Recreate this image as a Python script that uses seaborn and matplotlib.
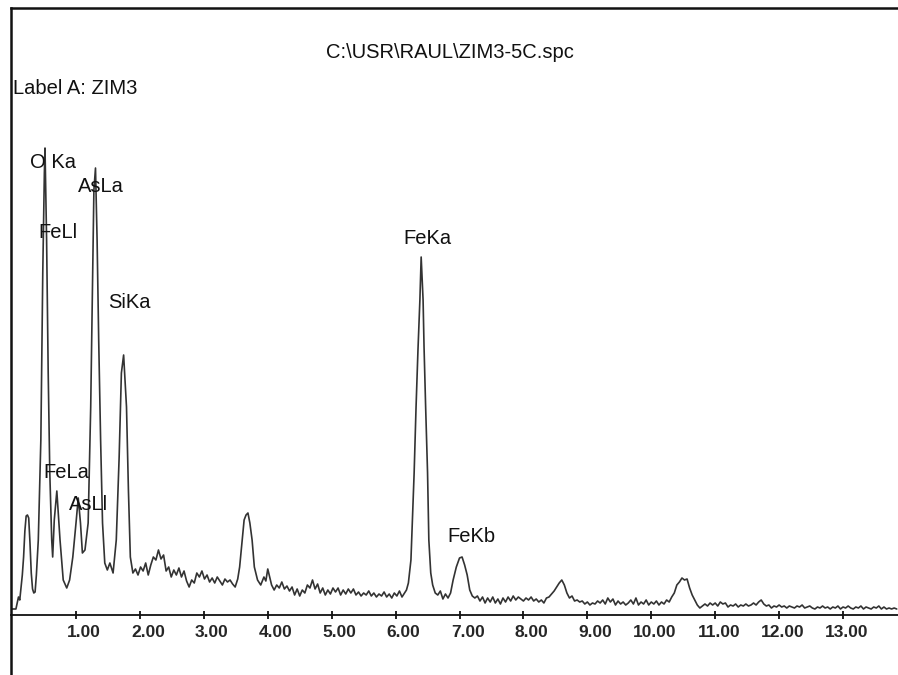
import numpy as np
import pandas as pd
import seaborn as sns
import matplotlib.pyplot as plt
import matplotlib.transforms as mtransforms

sns.set_style('white')
plt.rcParams['font.family'] = ['Liberation Sans', 'DejaVu Sans']

# EDS spectrum (energy in keV, counts in arbitrary units)
energy_kev = [
    0.00, 0.06, 0.08, 0.10, 0.12, 0.14, 0.16, 0.18, 0.20, 0.22,
    0.24, 0.26, 0.28, 0.30, 0.32, 0.34, 0.36, 0.38, 0.41, 0.45,
    0.48, 0.505, 0.515, 0.54, 0.565, 0.59, 0.62, 0.635, 0.66, 0.70,
    0.75, 0.80, 0.855, 0.90, 0.95, 1.00, 1.035, 1.07, 1.10, 1.14,
    1.19, 1.23, 1.26, 1.28, 1.305, 1.33, 1.355, 1.385, 1.415, 1.45,
    1.49, 1.53, 1.58, 1.63, 1.675, 1.71, 1.745, 1.79, 1.82, 1.85,
    1.89, 1.93, 1.97, 2.01, 2.05, 2.09, 2.13, 2.17, 2.21, 2.25,
    2.29, 2.33, 2.37, 2.41, 2.45, 2.49, 2.53, 2.57, 2.61, 2.65,
    2.69, 2.73, 2.77, 2.81, 2.85, 2.89, 2.93, 2.97, 3.01, 3.05,
    3.09, 3.13, 3.17, 3.21, 3.25, 3.29, 3.33, 3.37, 3.41, 3.45,
    3.49, 3.53, 3.56, 3.60, 3.63, 3.66, 3.69, 3.72, 3.755, 3.79,
    3.84, 3.89, 3.94, 3.97, 4.00, 4.03, 4.06, 4.10, 4.14, 4.18,
    4.22, 4.26, 4.30, 4.34, 4.38, 4.42, 4.46, 4.50, 4.54, 4.58,
    4.62, 4.66, 4.70, 4.74, 4.78, 4.82, 4.86, 4.90, 4.94, 4.98,
    5.02, 5.06, 5.10, 5.14, 5.18, 5.22, 5.26, 5.30, 5.34, 5.38,
    5.42, 5.46, 5.50, 5.54, 5.58, 5.62, 5.66, 5.70, 5.74, 5.78,
    5.82, 5.86, 5.90, 5.94, 5.98, 6.02, 6.06, 6.10, 6.14, 6.17,
    6.20, 6.24, 6.29, 6.32, 6.35, 6.38, 6.40, 6.43, 6.445, 6.47,
    6.50, 6.52, 6.55, 6.58, 6.62, 6.66, 6.70, 6.74, 6.78, 6.82,
    6.86, 6.90, 6.95, 7.00, 7.04, 7.08, 7.12, 7.16, 7.20,
    7.24, 7.28, 7.32, 7.36, 7.40, 7.44, 7.48, 7.52, 7.56, 7.60,
    7.64, 7.68, 7.72, 7.76, 7.80, 7.84, 7.88, 7.92, 7.96, 8.00,
    8.04, 8.08, 8.12, 8.16, 8.20, 8.24, 8.28, 8.32, 8.36, 8.40,
    8.44, 8.48, 8.52, 8.56, 8.60, 8.64, 8.68, 8.72, 8.76, 8.80,
    8.84, 8.88, 8.92, 8.96, 9.00, 9.04, 9.08, 9.12, 9.16, 9.20,
    9.24, 9.28, 9.32, 9.36, 9.40, 9.44, 9.48, 9.52, 9.56, 9.60,
    9.64, 9.68, 9.72, 9.76, 9.80, 9.84, 9.88, 9.92, 9.96, 10.00,
    10.04, 10.08, 10.12, 10.16, 10.20, 10.24, 10.28, 10.32, 10.36, 10.40,
    10.44, 10.48, 10.52, 10.56, 10.60, 10.64, 10.68, 10.72, 10.76, 10.80,
    10.84, 10.88, 10.92, 10.96, 11.00, 11.04, 11.08, 11.12, 11.16, 11.20,
    11.24, 11.28, 11.32, 11.36, 11.40, 11.44, 11.48, 11.52, 11.56, 11.60,
    11.64, 11.68, 11.72, 11.76, 11.80, 11.84, 11.88, 11.92, 11.96, 12.00,
    12.04, 12.08, 12.12, 12.16, 12.20, 12.24, 12.28, 12.32, 12.36, 12.40,
    12.44, 12.48, 12.52, 12.56, 12.60, 12.64, 12.68, 12.72, 12.76, 12.80,
    12.84, 12.88, 12.92, 12.96, 13.00, 13.04, 13.08, 13.12, 13.16, 13.20,
    13.24, 13.28, 13.32, 13.36, 13.40, 13.44, 13.48, 13.52, 13.56, 13.60,
    13.64, 13.68, 13.72, 13.76, 13.80, 13.84,
]
counts = [
    6, 6, 12, 18, 15, 28, 40, 58, 84, 99,
    100, 97, 72, 42, 26, 22, 23, 40, 75, 175,
    342, 442, 467, 375, 242, 142, 75, 58, 95, 124,
    75, 35, 27, 35, 58, 92, 117, 92, 62, 65,
    92, 208, 342, 425, 447, 375, 275, 175, 92, 52,
    45, 52, 42, 75, 158, 242, 260, 208, 125, 58,
    42, 46, 40, 48, 44, 52, 40, 50, 58, 55,
    65, 56, 60, 44, 48, 38, 45, 40, 47, 38,
    44, 34, 28, 35, 32, 42, 38, 44, 36, 40,
    33, 37, 32, 38, 34, 30, 36, 33, 35, 31,
    28, 36, 48, 75, 95, 100, 102, 92, 75, 48,
    35, 30, 38, 34, 46, 38, 30, 25, 30, 27,
    33, 26, 29, 24, 28, 20, 26, 19, 25, 22,
    30, 27, 35, 26, 31, 22, 27, 20, 25, 21,
    27, 23, 27, 20, 25, 21, 26, 22, 26, 20,
    23, 19, 22, 20, 24, 19, 22, 18, 21, 19,
    23, 18, 21, 17, 22, 19, 24, 18, 22, 25,
    32, 55, 142, 208, 265, 315, 358, 315, 268, 208,
    142, 75, 42, 30, 22, 20, 24, 16, 21, 17,
    22, 35, 48, 57, 58, 50, 40, 25, 19,
    17, 19, 14, 18, 12, 17, 13, 18, 12, 16,
    11, 17, 13, 18, 14, 19, 15, 18, 16, 14,
    17, 15, 18, 14, 16, 13, 15, 12, 17, 18,
    21, 24, 28, 32, 35, 30, 22, 17, 19, 14,
    15, 13, 14, 11, 13, 10, 12, 11, 14, 12,
    15, 11, 17, 13, 16, 10, 14, 11, 13, 10,
    12, 15, 11, 17, 10, 13, 11, 15, 10, 13,
    11, 14, 10, 13, 11, 15, 13, 18, 22, 30,
    33, 37, 35, 36, 27, 20, 15, 10, 7, 9,
    11, 9, 12, 10, 12, 9, 13, 11, 12, 8,
    10, 9, 11, 8, 10, 9, 11, 9, 10, 12,
    10, 13, 15, 11, 9, 10, 7, 9, 8, 10,
    8, 9, 7, 9, 8, 7, 9, 8, 10, 7,
    8, 9, 7, 6, 8, 7, 9, 7, 8, 6,
    8, 7, 9, 6, 8, 7, 9, 7, 6, 8,
    7, 9, 6, 8, 7, 6, 8, 7, 9, 6,
    8, 6, 7, 6, 7, 6,
]
assert len(energy_kev) == len(counts)

# peak labels and where their text sits (keV, counts)
peak_names = ['O Ka', 'AsLa', 'FeLl', 'SiKa', 'FeKa', 'FeLa', 'AsLl', 'FeKb']
peak_label_x = [0.28, 1.03, 0.405, 1.50, 6.12, 0.485, 0.89, 6.81]
peak_label_y = [453, 428, 383, 313, 377, 142, 110, 78]

tick_values = [1, 2, 3, 4, 5, 6, 7, 8, 9, 10, 11, 12, 13]
tick_labels = ['1.00', '2.00', '3.00', '4.00', '5.00', '6.00', '7.00',
               '8.00', '9.00', '10.00', '11.00', '12.00', '13.00']

title_text = 'C:\\USR\\RAUL\\ZIM3-5C.spc'
label_text = 'Label A: ZIM3'

spectrum = pd.DataFrame({'energy': energy_kev, 'counts': counts})

W, H = 898, 675
fig = plt.figure(figsize=(W/100, H/100), dpi=100)
ax = fig.add_axes([11/W, 0, 1 - 11/W, (H-8)/H])

sns.lineplot(data=spectrum, x='energy', y='counts', ax=ax,
             color='#333333', linewidth=1.2, estimator=None)

ax.set_xlim(-0.017, 13.86)
ax.set_ylim(-60, 607)
ax.set_xlabel('')
ax.set_ylabel('')
ax.set_yticks([])

for side in ['left', 'top']:
    ax.spines[side].set_visible(True)
    ax.spines[side].set_color('#111111')
    ax.spines[side].set_linewidth(1.8)
ax.spines['right'].set_visible(False)
ax.spines['bottom'].set_position(('data', 0))
ax.spines['bottom'].set_color('#111111')
ax.spines['bottom'].set_linewidth(1.3)

ax.set_xticks(tick_values)
ax.set_xticklabels(tick_labels, fontsize=12.5, fontweight='bold')
ax.tick_params(axis='x', direction='inout', length=6, width=1.3,
               color='#111111', pad=4, bottom=True)
offset = mtransforms.ScaledTranslation(25/100, 0, fig.dpi_scale_trans)
for lbl in ax.get_xticklabels():
    lbl.set_horizontalalignment('right')
    lbl.set_transform(lbl.get_transform() + offset)

for name, lx, ly in zip(peak_names, peak_label_x, peak_label_y):
    ax.text(lx, ly, name, ha='left', va='center', fontsize=14.5, color='#111111')

fig.text(450/W, 1 - 53/H, title_text, ha='center', va='center',
         fontsize=14.5, color='#111111')
fig.text(13/W, 1 - 88/H, label_text, ha='left', va='center',
         fontsize=14.5, color='#111111')

fig.savefig('out.png', dpi=100)
